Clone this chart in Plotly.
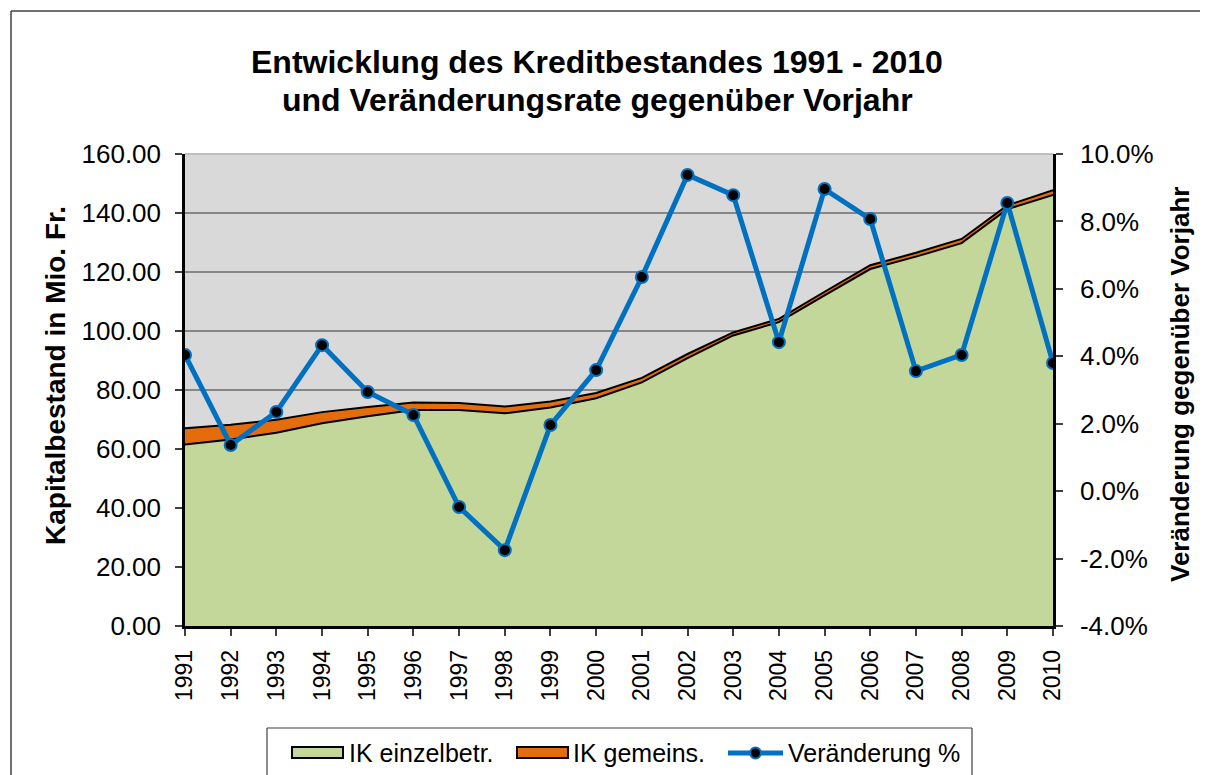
import plotly.graph_objects as go

years = list(range(1991, 2011))

# IK einzelbetr. (Mio. Fr.)
ik_einzel = [61.5, 63.2, 65.5, 68.7, 71.1, 73.2, 73.2, 72.1, 74.1, 77.2,
             82.6, 90.8, 98.5, 103.0, 112.1, 121.0, 125.2, 129.8, 141.3, 146.1]
# IK gemeins. (Mio. Fr.), stacked on top
ik_gemeins = [5.5, 5.0, 4.4, 3.8, 3.1, 2.6, 2.4, 2.3, 2.0, 1.8,
              1.5, 1.4, 1.0, 1.1, 1.2, 1.3, 1.3, 1.4, 1.3, 1.6]
# Veränderung gegenüber Vorjahr in %
veraenderung = [4.04, 1.37, 2.35, 4.33, 2.94, 2.26, -0.47, -1.75, 1.96, 3.59,
                6.35, 9.38, 8.78, 4.42, 8.96, 8.07, 3.56, 4.04, 8.55, 3.80]

left_ticks = [0, 20, 40, 60, 80, 100, 120, 140, 160]
right_ticks = [-4, -2, 0, 2, 4, 6, 8, 10]
right_labels = ["-4.0%", "-2.0%", "0.0%", "2.0%", "4.0%", "6.0%", "8.0%", "10.0%"]

ik_total = [a + b for a, b in zip(ik_einzel, ik_gemeins)]

# the page body has an 8px margin, so the figure starts at (8, 8) in the window
OFF = 8
W, H = 1208 - OFF, 775 - OFF
L, T = 185 - OFF, 154 - OFF
R = W - (1053 - OFF)
B = H - (626 - OFF)
PW, PH = W - L - R, H - T - B


def px(x):
    # window pixel -> paper x
    return (x - OFF - L) / PW


def py(y):
    # window pixel -> paper y
    return (H - B - (y - OFF)) / PH


FONT = "Arial, Liberation Sans, sans-serif"

fig = go.Figure()

fig.add_trace(
    go.Scatter(
        x=years,
        y=ik_einzel,
        name="IK einzelbetr.",
        mode="lines",
        fill="tozeroy",
        fillcolor="#c4d79b",
        line=dict(color="black", width=2),
    )
)
fig.add_trace(
    go.Scatter(
        x=years,
        y=ik_total,
        customdata=ik_gemeins,
        name="IK gemeins.",
        mode="lines",
        fill="tonexty",
        fillcolor="#e46c0a",
        line=dict(color="black", width=2),
    )
)
fig.add_trace(
    go.Scatter(
        x=years,
        y=veraenderung,
        name="Veränderung %",
        mode="lines+markers",
        yaxis="y2",
        line=dict(color="#0070c0", width=5),
        marker=dict(size=12, color="black", line=dict(color="#0070c0", width=2)),
    )
)

axis_common = dict(
    ticks="outside",
    ticklen=7,
    tickcolor="#404040",
    tickwidth=1.5,
    showline=True,
    linecolor="black",
    linewidth=2.5,
    zeroline=False,
)

fig.update_layout(
    width=W,
    height=H,
    autosize=False,
    margin=dict(l=L, r=R, t=T, b=B, pad=0),
    paper_bgcolor="white",
    plot_bgcolor="#d9d9d9",
    font=dict(family=FONT, color="black"),
    showlegend=False,
    xaxis=dict(
        range=[1991, 2010],
        tickmode="array",
        tickvals=years,
        ticktext=[str(y) for y in years],
        tickangle=-90,
        tickfont=dict(size=23),
        ticklabelstandoff=5,
        showgrid=False,
        **axis_common,
    ),
    yaxis=dict(
        range=[0, 160],
        tickmode="array",
        tickvals=left_ticks,
        ticktext=[f"{v:.2f}" for v in left_ticks],
        tickfont=dict(size=26),
        ticklabelstandoff=9,
        showgrid=True,
        gridcolor="#868686",
        gridwidth=2,
        **axis_common,
    ),
    yaxis2=dict(
        overlaying="y",
        side="right",
        range=[-4, 10],
        tickmode="array",
        tickvals=right_ticks,
        ticktext=right_labels,
        tickfont=dict(size=26),
        ticklabelstandoff=12,
        showgrid=False,
        **axis_common,
    ),
)


def hline(x0, x1, y, color="#404040", width=1.5):
    return dict(type="line", xref="paper", yref="paper",
                x0=px(x0), x1=px(x1), y0=py(y), y1=py(y),
                line=dict(color=color, width=width))


def vline(x, y0, y1, color="#404040", width=1.5):
    return dict(type="line", xref="paper", yref="paper",
                x0=px(x), x1=px(x), y0=py(y0), y1=py(y1),
                line=dict(color=color, width=width))


shapes = [
    # outer chart border (only top and left edges are visible)
    hline(11, 1208, 11),
    vline(11, 11, 775),
    # light top edge of plot area
    dict(type="line", xref="paper", yref="paper",
         x0=0, x1=1, y0=1, y1=1, line=dict(color="#bfbfbf", width=2)),
    # legend box (bottom edge is outside the picture)
    hline(267, 972, 728, width=1.2),
    vline(267, 728, 775, width=1.2),
    vline(972, 728, 775, width=1.2),
    # legend swatches
    dict(type="rect", xref="paper", yref="paper",
         x0=px(292), x1=px(343), y0=py(758), y1=py(747),
         line=dict(color="black", width=2), fillcolor="#c4d79b"),
    dict(type="rect", xref="paper", yref="paper",
         x0=px(517), x1=px(568), y0=py(758), y1=py(747),
         line=dict(color="black", width=2), fillcolor="#e46c0a"),
    hline(728, 783, 753, color="#0070c0", width=5),
    dict(type="circle", xref="paper", yref="paper",
         x0=px(750), x1=px(761), y0=py(758.5), y1=py(747.5),
         line=dict(color="#0070c0", width=2), fillcolor="black"),
]

annotations = [
    dict(text="<b>Entwicklung des Kreditbestandes 1991 - 2010</b>",
         x=px(597), y=py(62), font=dict(size=32)),
    dict(text="<b>und Veränderungsrate gegenüber Vorjahr</b>",
         x=px(597), y=py(100), font=dict(size=32)),
    dict(text="<b>Kapitalbestand in Mio. Fr.</b>",
         x=px(55), y=py(376), textangle=-90, font=dict(size=28)),
    dict(text="<b>Veränderung gegenüber Vorjahr</b>",
         x=px(1180), y=py(385), textangle=-90, font=dict(size=26)),
]
for text, x in [("IK einzelbetr.", 347), ("IK gemeins.", 571), ("Veränderung %", 786)]:
    annotations.append(dict(text=text, x=px(x), y=py(753), xanchor="left",
                            font=dict(size=25)))

for a in annotations:
    a.setdefault("xanchor", "center")
    a.update(xref="paper", yref="paper", yanchor="middle", showarrow=False)

fig.update_layout(shapes=shapes, annotations=annotations)

fig.write_html("out.html")
